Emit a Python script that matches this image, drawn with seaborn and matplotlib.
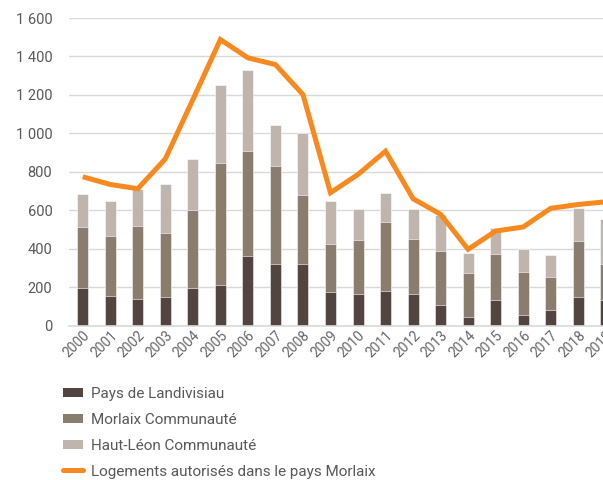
import numpy as np
import pandas as pd
import matplotlib
matplotlib.use("Agg")
import matplotlib.pyplot as plt
from matplotlib.patches import Patch
from matplotlib.lines import Line2D
from matplotlib.ticker import FuncFormatter
import seaborn as sns

# data
years = [str(y) for y in range(2000, 2020)]
landivisiau = [197, 156, 140, 150, 197, 213, 363, 322, 322, 176,
               166, 183, 166, 109, 47, 135, 59, 83, 150, 135]
morlaix = [317, 309, 377, 333, 403, 635, 545, 507, 356, 248,
           279, 355, 284, 280, 228, 237, 221, 171, 289, 185]
haut_leon = [169, 185, 193, 256, 267, 403, 422, 216, 324, 223,
             164, 151, 159, 185, 106, 137, 121, 116, 173, 235]
logements = [775, 735, 713, 868, 1176, 1488, 1393, 1358, 1202, 692,
             787, 908, 661, 580, 398, 493, 514, 611, 631, 645]

labels = ["Pays de Landivisiau", "Morlaix Communauté", "Haut-Léon Communauté",
          "Logements autorisés dans le pays Morlaix"]
colors = ["#52453f", "#8a7d6e", "#bfb5ad"]
orange = "#f7891f"
text_gray = "#595959"

df = pd.DataFrame({"year": years, "land": landivisiau, "mor": morlaix,
                   "haut": haut_leon, "log": logements})
df["c1"] = df["land"]
df["c2"] = df["land"] + df["mor"]
df["c3"] = df["c2"] + df["haut"]

sns.set_theme(style="white")
plt.rcParams["font.family"] = ["Roboto", "DejaVu Sans"]

fig = plt.figure(figsize=(6.03, 4.8), dpi=100)
# axes runs past the right edge of the figure, like the cropped original
ax = fig.add_axes([0.1144, 0.321, 0.913, 0.6415])

# stacked bars: draw cumulative totals from top down
for col, c in zip(["c3", "c2", "c1"], colors[::-1]):
    sns.barplot(data=df, x="year", y=col, color=c, width=0.4, saturation=1,
                edgecolor="white", linewidth=0.4, ax=ax, zorder=2)

sns.lineplot(x=np.arange(len(years)), y=df["log"], color=orange, linewidth=3.6,
             ax=ax, zorder=3, solid_joinstyle="miter", solid_capstyle="butt")

ax.set_ylim(0, 1600)
ax.set_xlim(-0.5, len(years) - 0.5)
ax.set_yticks(range(0, 1601, 200))
ax.yaxis.set_major_formatter(FuncFormatter(lambda v, p: f"{v:,.0f}".replace(",", " ")))
ax.grid(axis="y", color="#d9d9d9", linewidth=1, zorder=0)
ax.set_axisbelow(True)
for s in ["top", "right", "left"]:
    ax.spines[s].set_visible(False)
ax.spines["bottom"].set_color("#d9d9d9")
ax.spines["bottom"].set_linewidth(1.2)
ax.set_xlabel("")
ax.set_ylabel("")
ax.tick_params(axis="y", length=0, pad=12, labelsize=10.5, labelcolor=text_gray)
ax.tick_params(axis="x", length=0, pad=2, labelsize=10, labelcolor="#666666")
for t in ax.get_xticklabels():
    t.set_rotation(45)
    t.set_ha("right")
    t.set_rotation_mode("anchor")

handles = [Patch(facecolor=c, edgecolor="none") for c in colors]
handles.append(Line2D([0], [0], color=orange, linewidth=3.6, solid_capstyle="round"))
fig.legend(handles, labels, loc="upper left", bbox_to_anchor=(0.095, 0.207),
           frameon=False, fontsize=11, labelcolor=text_gray, handlelength=1.3,
           handleheight=0.55, handletextpad=0.5, labelspacing=0.78, borderaxespad=0)

fig.savefig("out.png", dpi=100)
